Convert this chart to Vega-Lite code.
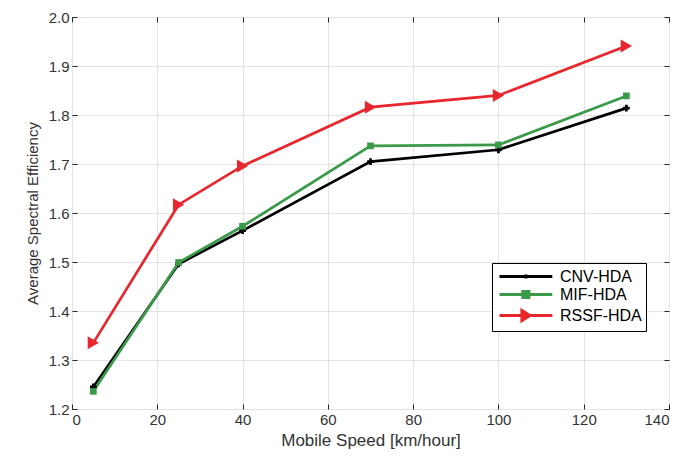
{
  "$schema": "https://vega.github.io/schema/vega-lite/v6.json",
  "autosize": "none",
  "width": 597,
  "height": 392,
  "padding": {"left": 72, "top": 17, "right": 13, "bottom": 48},
  "background": "white",
  "config": {
    "view": {"stroke": "#262626", "strokeWidth": 1},
    "font": "Liberation Sans",
    "axis": {
      "labelFont": "Liberation Sans",
      "titleFont": "Liberation Sans",
      "labelFontSize": 15,
      "titleFontSize": 15,
      "labelColor": "#333333",
      "titleColor": "#333333",
      "titleFontWeight": "normal",
      "domain": false,
      "gridColor": "#e3e3e3",
      "gridWidth": 1,
      "tickColor": "#262626",
      "tickSize": -5
    }
  },
  "data": {
    "values": [
      {"speed": 5, "eff": 1.245, "series": "CNV-HDA"},
      {"speed": 25, "eff": 1.496, "series": "CNV-HDA"},
      {"speed": 40, "eff": 1.564, "series": "CNV-HDA"},
      {"speed": 70, "eff": 1.705, "series": "CNV-HDA"},
      {"speed": 100, "eff": 1.729, "series": "CNV-HDA"},
      {"speed": 130, "eff": 1.814, "series": "CNV-HDA"},
      {"speed": 5, "eff": 1.236, "series": "MIF-HDA"},
      {"speed": 25, "eff": 1.499, "series": "MIF-HDA"},
      {"speed": 40, "eff": 1.573, "series": "MIF-HDA"},
      {"speed": 70, "eff": 1.737, "series": "MIF-HDA"},
      {"speed": 100, "eff": 1.739, "series": "MIF-HDA"},
      {"speed": 130, "eff": 1.839, "series": "MIF-HDA"},
      {"speed": 5, "eff": 1.335, "series": "RSSF-HDA"},
      {"speed": 25, "eff": 1.617, "series": "RSSF-HDA"},
      {"speed": 40, "eff": 1.696, "series": "RSSF-HDA"},
      {"speed": 70, "eff": 1.816, "series": "RSSF-HDA"},
      {"speed": 100, "eff": 1.84, "series": "RSSF-HDA"},
      {"speed": 130, "eff": 1.941, "series": "RSSF-HDA"}
    ]
  },
  "layer": [
    {
      "mark": {"type": "line", "strokeWidth": 2.7},
      "encoding": {
        "x": {
          "field": "speed", "type": "quantitative",
          "scale": {"domain": [0, 140], "nice": false},
          "axis": {"values": [0, 20, 40, 60, 80, 100, 120, 140], "title": "Mobile Speed [km/hour]", "titleFontSize": 17, "labelPadding": 8, "titlePadding": 5, "orient": "bottom"}
        },
        "y": {
          "field": "eff", "type": "quantitative",
          "scale": {"domain": [1.2, 2], "nice": false, "zero": false},
          "axis": {"values": [1.2, 1.3, 1.4, 1.5, 1.6, 1.7, 1.8, 1.9, 2], "title": "Average Spectral Efficiency", "labelPadding": 8, "titlePadding": 8, "orient": "left"}
        },
        "color": {
          "field": "series", "type": "nominal",
          "scale": {"domain": ["CNV-HDA", "MIF-HDA", "RSSF-HDA"], "range": ["#000000", "#3a9a4a", "#e8262d"]},
          "legend": {
            "orient": "none",
            "legendX": 420,
            "legendY": 246,
            "title": null,
            "strokeColor": "#000000",
            "fillColor": "white",
            "padding": 4,
            "symbolSize": 256,
            "symbolStrokeWidth": 3,
            "labelFont": "Liberation Sans",
            "labelFontSize": 16,
            "labelColor": "#000000",
            "labelOffset": 45,
            "rowPadding": 0,
            "encode": {
              "symbols": {
                "update": {
                  "shape": {"signal": "datum.value === 'CNV-HDA' ? 'M-0.75,0H5.85M2.55,-0.25V0.25M2.3,0H2.8' : datum.value === 'MIF-HDA' ? 'M-0.75,0H5.85M2.17,-0.38H2.93V0.38H2.17Z' : 'M-0.75,0H5.85M2.05,-0.62L3.05,0L2.05,0.62Z'"},
                  "fill": {"scale": "color", "field": "value"},
                  "stroke": {"scale": "color", "field": "value"}
                }
              }
            }
          }
        }
      }
    },
    {
      "transform": [{"filter": "datum.series === 'CNV-HDA'"}],
      "mark": {"type": "point", "shape": "cross", "filled": true, "color": "#000000", "size": 45, "opacity": 1},
      "encoding": {
        "x": {"field": "speed", "type": "quantitative", "axis": null},
        "y": {"field": "eff", "type": "quantitative", "axis": null}
      }
    },
    {
      "transform": [{"filter": "datum.series === 'MIF-HDA'"}],
      "mark": {"type": "point", "shape": "square", "filled": true, "color": "#3a9a4a", "size": 45, "opacity": 1},
      "encoding": {
        "x": {"field": "speed", "type": "quantitative", "axis": null},
        "y": {"field": "eff", "type": "quantitative", "axis": null}
      }
    },
    {
      "transform": [{"filter": "datum.series === 'RSSF-HDA'"}],
      "mark": {"type": "point", "shape": "triangle-right", "filled": true, "color": "#e8262d", "size": 170, "opacity": 1},
      "encoding": {
        "x": {"field": "speed", "type": "quantitative", "axis": null},
        "y": {"field": "eff", "type": "quantitative", "axis": null}
      }
    },
    {
      "mark": {"type": "point", "opacity": 0},
      "encoding": {
        "x": {"field": "speed", "type": "quantitative", "axis": {"orient": "top", "labels": false, "grid": false, "title": null, "values": [0, 20, 40, 60, 80, 100, 120, 140]}},
        "y": {"field": "eff", "type": "quantitative", "axis": {"orient": "right", "labels": false, "grid": false, "title": null, "values": [1.2, 1.3, 1.4, 1.5, 1.6, 1.7, 1.8, 1.9, 2]}}
      }
    }
  ],
  "resolve": {"axis": {"x": "independent", "y": "independent"}}
}
